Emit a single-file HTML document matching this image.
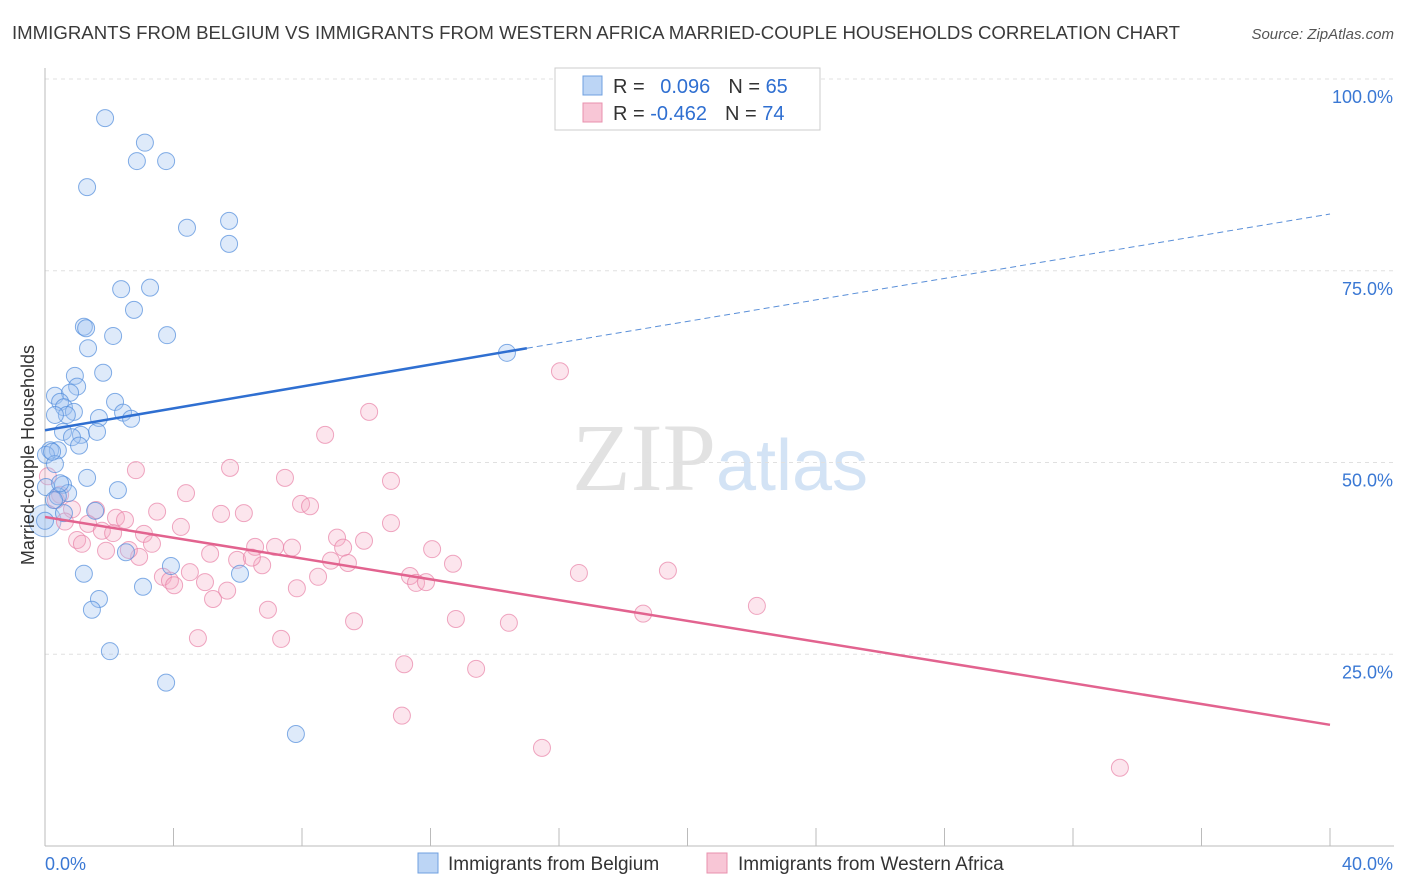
<!DOCTYPE html>
<html><head><meta charset="utf-8"><style>
body{margin:0;background:#fff;font-family:"Liberation Sans",sans-serif}
svg{display:block}
</style></head><body>
<svg id="chart" width="1406" height="892">
<text x="12" y="39" font-size="18" fill="#3a3a3a" textLength="1168" lengthAdjust="spacingAndGlyphs">IMMIGRANTS FROM BELGIUM VS IMMIGRANTS FROM WESTERN AFRICA MARRIED-COUPLE HOUSEHOLDS CORRELATION CHART</text>
<text x="1394" y="39" font-size="15" fill="#555" text-anchor="end" font-style="italic">Source: ZipAtlas.com</text>
<text x="720" y="490" font-size="96" fill="#e2e2e2" text-anchor="middle" font-family="Liberation Serif,serif">ZIP<tspan fill="#d3e3f5" font-family="Liberation Sans,sans-serif" font-size="72">atlas</tspan></text>
<g id="grid"></g><g id="axes"></g><g id="marks"></g>
<text transform="translate(34,455) rotate(-90)" font-size="18" fill="#333" text-anchor="middle">Married-couple Households</text>
<g>
<rect x="555" y="68" width="265" height="62" fill="#fff" stroke="#ccc"/>
<rect x="583" y="76" width="19" height="19" fill="#bcd5f5" stroke="#6fa0e0"/>
<rect x="583" y="103" width="19" height="19" fill="#f8c6d6" stroke="#e890ae"/>
<text x="613" y="93" font-size="20" fill="#333">R = <tspan fill="#2f6fd1" dx="10">0.096</tspan><tspan dx="18">N = </tspan><tspan fill="#2f6fd1">65</tspan></text>
<text x="613" y="120" font-size="20" fill="#333">R = <tspan fill="#2f6fd1" dx="0">-0.462</tspan><tspan dx="18">N = </tspan><tspan fill="#2f6fd1">74</tspan></text>
</g>
<g>
<rect x="418" y="853" width="20" height="20" fill="#bcd5f5" stroke="#6fa0e0"/>
<text x="448" y="870" font-size="19" fill="#333">Immigrants from Belgium</text>
<rect x="707" y="853" width="20" height="20" fill="#f8c6d6" stroke="#e890ae"/>
<text x="738" y="870" font-size="19" fill="#333">Immigrants from Western Africa</text>
</g>
</svg>
<script>
const xTicks=[0,40];
const yTicks=[25,50,75,100];
const blueX=[1.87,3.11,2.86,3.77,1.31,4.42,5.73,5.73,2.37,3.27,2.77,1.21,1.28,2.12,3.80,1.34,14.38,1.81,0.93,1.00,0.31,0.78,0.47,2.18,0.59,0.90,0.68,2.43,0.31,1.68,2.68,0.56,1.12,1.62,0.84,1.06,0.16,0.40,0.03,0.31,1.31,0.03,0.56,0.72,2.27,0.40,1.56,0.59,0.0,2.52,1.21,3.92,6.07,3.05,1.68,1.46,2.02,3.77,7.81,0.22,0.47,0.28];
const blueY=[94.9,91.7,89.3,89.3,85.9,80.6,81.5,78.5,72.6,72.8,69.9,67.7,67.5,66.5,66.6,64.9,64.3,61.7,61.3,59.9,58.7,59.1,57.9,57.9,57.2,56.6,56.2,56.5,56.2,55.8,55.7,54.0,53.6,54.0,53.3,52.2,51.6,51.6,51.0,49.8,48.0,46.8,47.1,46.0,46.4,45.6,43.7,43.4,42.4,38.3,35.5,36.5,35.5,33.8,32.2,30.8,25.4,21.3,14.6,51.4,47.3,45.1];
const pinkX=[16.03,10.09,8.72,2.83,5.76,10.77,7.47,4.39,7.97,8.25,0.09,0.47,0.34,0.84,1.59,3.49,5.48,6.19,2.21,2.49,0.62,1.34,4.23,10.77,1.77,2.12,3.08,9.09,1.00,1.15,3.33,9.93,6.54,7.16,7.69,9.28,12.05,5.14,2.93,5.98,6.76,6.44,8.90,9.43,12.70,1.90,2.61,4.51,16.62,19.39,3.67,3.89,4.02,4.98,8.50,11.36,11.55,11.86,7.84,5.67,5.23,6.94,22.16,18.62,9.62,12.79,14.44,4.76,7.35,11.18,13.42,11.11,15.47,33.46];
const pinkY=[61.9,56.6,53.6,49.0,49.3,47.6,48.0,46.0,44.6,44.3,48.2,45.8,45.1,43.9,43.8,43.6,43.3,43.4,42.8,42.5,42.3,42.0,41.6,42.1,41.1,40.8,40.7,40.2,39.9,39.4,39.4,39.8,39.0,39.0,38.9,38.9,38.7,38.1,37.7,37.3,36.6,37.6,37.2,36.9,36.8,38.5,38.6,35.7,35.6,35.9,35.1,34.6,34.0,34.4,35.1,35.2,34.3,34.4,33.6,33.3,32.2,30.8,31.3,30.3,29.3,29.6,29.1,27.1,27.0,23.7,23.1,17.0,12.8,10.2];
const blueTrend=[54.2,64.9,82.4];
const blueTrendX=[0,15,40];
const pinkTrend=[42.9,15.8];
const pinkTrendX=[0,40];

const NS='http://www.w3.org/2000/svg';
const X=v=>45+v/40*1285;
const Y=v=>846-v*7.67;
function mk(tag,attrs,parent){const e=document.createElementNS(NS,tag);for(const k in attrs)e.setAttribute(k,attrs[k]);parent.appendChild(e);return e;}
const grid=document.getElementById('grid'),axes=document.getElementById('axes'),marks=document.getElementById('marks');
yTicks.forEach(t=>{
  const l=mk('line',{x1:45,x2:1394,y1:Y(t),y2:Y(t),stroke:'#e0e0e0','stroke-dasharray':'4,4'},grid);
  
  
  const tx=mk('text',{x:1393,y:Y(t)+24,'font-size':18,fill:'#3a78d4','text-anchor':'end'},axes);
  tx.textContent=t.toFixed(1)+'%';
  
  
});
mk('line',{x1:45,x2:45,y1:68,y2:846,stroke:'#bbb'},axes);
mk('line',{x1:45,x2:1394,y1:846,y2:846,stroke:'#bbb'},axes);
for(let i=0;i<=10;i++){mk('line',{x1:X(i*4),x2:X(i*4),y1:828,y2:846,stroke:'#bbb'},axes);}
xTicks.forEach((t,i)=>{
  const tx=mk('text',{x:i?1393:45,y:870,'font-size':18,fill:'#3a78d4','text-anchor':i?'end':'start'},axes);
  tx.textContent=t.toFixed(1)+'%';
  
  
});
const big=mk('circle',{cx:X(0),cy:Y(42.4),r:16,fill:'rgba(160,196,240,0.35)',stroke:'rgba(80,140,220,0.6)'},marks);


pinkX.forEach((v,i)=>{
  const c=mk('circle',{cx:X(v),cy:Y(pinkY[i]),r:8.5,fill:'rgba(244,170,196,0.3)',stroke:'rgba(232,130,166,0.7)','stroke-width':1},marks);
  
  
});
blueX.forEach((v,i)=>{
  const c=mk('circle',{cx:X(v),cy:Y(blueY[i]),r:8.5,fill:'rgba(160,196,240,0.35)',stroke:'rgba(80,140,220,0.7)','stroke-width':1},marks);
  
  
});
const b1=mk('line',{x1:X(blueTrendX[0]),y1:Y(blueTrend[0]),x2:X(blueTrendX[1]),y2:Y(blueTrend[1]),stroke:'#2f6fd1','stroke-width':2.5},marks);


const b2=mk('line',{x1:X(blueTrendX[1]),y1:Y(blueTrend[1]),x2:X(blueTrendX[2]),y2:Y(blueTrend[2]),stroke:'#5a8fd8','stroke-width':1,'stroke-dasharray':'6,4'},marks);


const p1=mk('line',{x1:X(pinkTrendX[0]),y1:Y(pinkTrend[0]),x2:X(pinkTrendX[1]),y2:Y(pinkTrend[1]),stroke:'#e2638f','stroke-width':2.5},marks);


</script>
</body></html>
